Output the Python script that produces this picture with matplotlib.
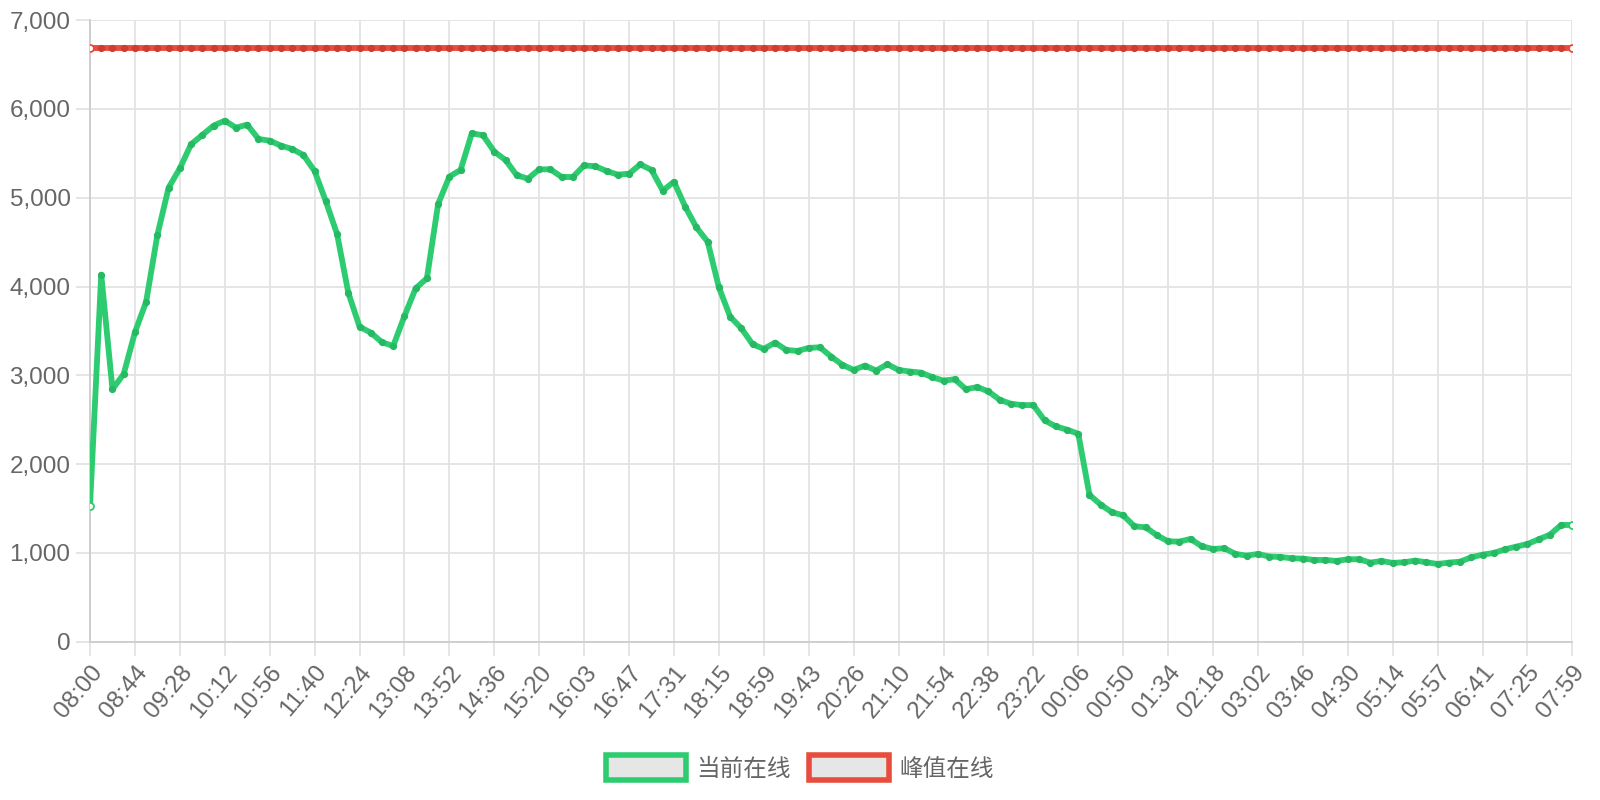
import numpy as np
import matplotlib.pyplot as plt
import matplotlib.transforms as mtransforms
from matplotlib.patches import Patch

plt.rcParams["font.family"] = ["Liberation Sans", "Noto Sans CJK SC", "DejaVu Sans"]

# x tick labels, one every 4 samples
tick_labels = [
    "08:00", "08:44", "09:28", "10:12", "10:56", "11:40", "12:24", "13:08",
    "13:52", "14:36", "15:20", "16:03", "16:47", "17:31", "18:15", "18:59",
    "19:43", "20:26", "21:10", "21:54", "22:38", "23:22", "00:06", "00:50",
    "01:34", "02:18", "03:02", "03:46", "04:30", "05:14", "05:57", "06:41",
    "07:25", "07:59",
]

current_online = [
    1530, 4134, 2843, 3015, 3484, 3830, 4581, 5114, 5331, 5602,
    5707, 5812, 5868, 5789, 5823, 5662, 5643, 5587, 5549, 5482,
    5301, 4960, 4592, 3931, 3548, 3481, 3372, 3331, 3668, 3980,
    4093, 4930, 5238, 5313, 5726, 5703, 5519, 5425, 5253, 5215,
    5320, 5320, 5234, 5234, 5365, 5354, 5301, 5260, 5271, 5376,
    5313, 5080, 5180, 4899, 4666, 4505, 3991, 3661, 3530, 3350,
    3298, 3369, 3286, 3275, 3309, 3316, 3211, 3118, 3061, 3110,
    3054, 3125, 3061, 3043, 3031, 2979, 2941, 2956, 2844, 2868,
    2819, 2725, 2680, 2665, 2665, 2493, 2425, 2388, 2343, 1653,
    1544, 1458, 1424, 1300, 1289, 1199, 1131, 1128, 1158, 1075,
    1045, 1053, 989, 970, 989, 960, 955, 940, 936, 921,
    921, 910, 929, 929, 891, 910, 888, 895, 914, 895,
    876, 891, 902, 951, 981, 1000, 1041, 1071, 1101, 1154,
    1206, 1315, 1315,
]

peak_value = 6682
peak_online = [peak_value] * len(current_online)

GREEN = "#2ecc71"
GREEN_DOT = "#26b863"
RED = "#e74c3c"
RED_DOT = "#cf3d2e"
GRID = "#e3e3e3"
TEXT = "#666666"

fig = plt.figure(figsize=(16, 8), dpi=100)
ax = fig.add_axes([0.05625, 0.1978, 0.9265, 0.777])

x = np.arange(len(current_online))

for series, col, dot in [(peak_online, RED, RED_DOT), (current_online, GREEN, GREEN_DOT)]:
    ax.plot(x, series, color=col, lw=4.2, solid_joinstyle="round",
            solid_capstyle="round", zorder=3)
    ax.plot(x[1:-1], series[1:-1], ls="none", marker="o", ms=4.2,
            mfc=dot, mec=dot, zorder=4)
    ax.plot([x[0], x[-1]], [series[0], series[-1]], ls="none", marker="o",
            ms=5, mfc="white", mec=col, mew=1.3, zorder=5)

ax.set_xlim(0, len(current_online) - 1)
ax.set_ylim(0, 7000)
ax.set_yticks(np.arange(0, 7001, 1000))
ax.set_yticklabels([f"{v:,}" for v in range(0, 7001, 1000)])
ax.set_xticks(np.arange(0, len(current_online), 4))
ax.set_xticklabels(tick_labels, rotation=50, ha="right", va="top",
                   rotation_mode="anchor")
shift = mtransforms.ScaledTranslation(3 / 100, 0, fig.dpi_scale_trans)
for lbl in ax.get_xticklabels():
    lbl.set_transform(lbl.get_transform() + shift)

ax.grid(True, color=GRID, lw=1.3)
ax.set_axisbelow(True)
for s in ["top", "right"]:
    ax.spines[s].set_visible(False)
for s in ["left", "bottom"]:
    ax.spines[s].set_color("#cccccc")
    ax.spines[s].set_linewidth(1.3)
ax.tick_params(axis="both", length=10, width=1.3, color=GRID,
               labelsize=17.5, labelcolor=TEXT, pad=4)

handles = [
    Patch(facecolor="#e6e6e6", edgecolor=GREEN, linewidth=4, label="当前在线"),
    Patch(facecolor="#e6e6e6", edgecolor=RED, linewidth=4, label="峰值在线"),
]
fig.legend(handles=handles, loc="center", bbox_to_anchor=(0.5, 0.04), ncol=2,
           frameon=False, fontsize=17, labelcolor=TEXT, handlelength=3.4,
           handleheight=1.2, handletextpad=0.45, columnspacing=0.75)

fig.savefig("out.png", dpi=100)
